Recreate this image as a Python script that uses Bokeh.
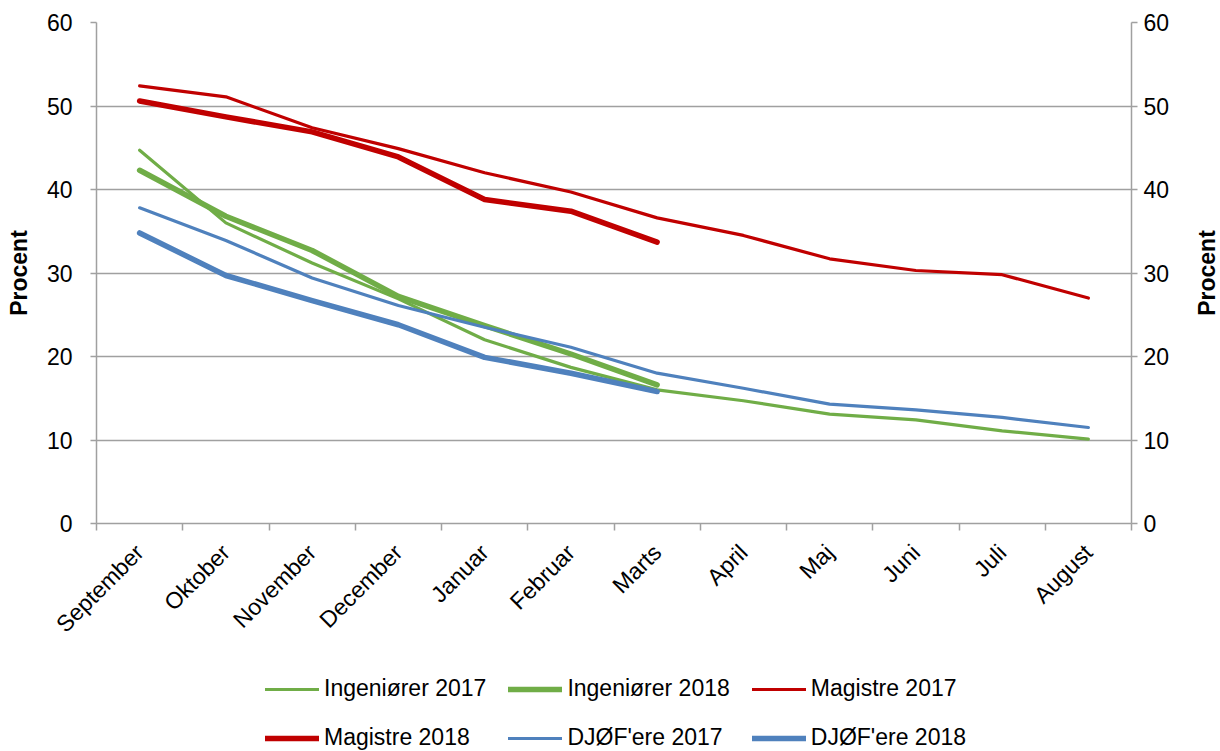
import math
from bokeh.plotting import figure
from bokeh.layouts import column, row
from bokeh.models import (Range1d, LinearAxis, FixedTicker, Legend, LegendItem,
                          ColumnDataSource)
from bokeh.core.properties import value
from bokeh.embed import file_html
from bokeh.resources import INLINE

months = ["September", "Oktober", "November", "December", "Januar", "Februar",
          "Marts", "April", "Maj", "Juni", "Juli", "August"]

ing_2017 = [44.7, 36.0, 31.2, 26.9, 22.0, 18.7, 16.0, 14.7, 13.1, 12.4, 11.1, 10.1]
ing_2018 = [42.3, 36.8, 32.7, 27.2, 23.7, 20.3, 16.6]
mag_2017 = [52.4, 51.1, 47.4, 44.9, 42.0, 39.7, 36.6, 34.5, 31.7, 30.3, 29.8, 27.0]
mag_2018 = [50.6, 48.7, 46.9, 43.9, 38.8, 37.4, 33.7]
djof_2017 = [37.8, 33.9, 29.4, 26.1, 23.5, 21.1, 18.0, 16.2, 14.3, 13.6, 12.7, 11.5]
djof_2018 = [34.8, 29.7, 26.7, 23.8, 19.9, 18.0, 15.8]
y_ticks = [0, 10, 20, 30, 40, 50, 60]
y_title = "Procent"

series = [
    ("Ingeniører 2017", ing_2017, "#70AD47", 3.2),
    ("Ingeniører 2018", ing_2018, "#70AD47", 5.5),
    ("Magistre 2017", mag_2017, "#C00000", 3.2),
    ("Magistre 2018", mag_2018, "#C00000", 5.5),
    ("DJØF'ere 2017", djof_2017, "#4F81BD", 3.2),
    ("DJØF'ere 2018", djof_2018, "#4F81BD", 5.5),
]

FONT = "Liberation Sans"
FS = "23px"
GRID = "#A0A0A0"

W = 1220
SIDE = 36
H = 665
p = figure(width=W - SIDE, height=H, output_backend="svg", toolbar_location=None,
           x_range=Range1d(0, len(months)), y_range=Range1d(y_ticks[0], y_ticks[-1]),
           min_border_left=96, min_border_right=W - SIDE - 1131, min_border_top=22,
           min_border_bottom=142)
p.outline_line_color = None
p.background_fill_color = "white"
p.border_fill_color = "white"

centers = [i + 0.5 for i in range(len(months))]

# narrow strip on the right holding the right-hand axis title
side = figure(width=SIDE, height=H, output_backend="svg", toolbar_location=None,
              x_range=Range1d(0, SIDE), y_range=p.y_range,
              min_border_left=0, min_border_right=0, min_border_top=22,
              min_border_bottom=142)
side.axis.visible = False
side.grid.visible = False
side.outline_line_color = None
side.text(x=[22], y=[(y_ticks[0] + y_ticks[-1]) / 2], text=[y_title],
          angle=math.pi / 2, text_align="center", text_baseline="middle",
          text_font=value(FONT), text_font_size=FS, text_font_style="bold",
          text_color="black")

# legend-only figure below the chart
lg = figure(width=W, height=86, output_backend="svg", toolbar_location=None,
            x_range=Range1d(0, 1), y_range=Range1d(0, 1),
            min_border_left=0, min_border_right=0, min_border_top=0,
            min_border_bottom=0)
lg.axis.visible = False
lg.grid.visible = False
lg.outline_line_color = None

items = []
for name, vals, color, w in series:
    src = ColumnDataSource(dict(x=centers[:len(vals)], y=vals))
    p.line("x", "y", source=src, line_color=color, line_width=w,
           line_join="round", line_cap="round")
    # same glyph style, placed outside the legend figure's visible range
    dummy = lg.line(x=[5, 6], y=[5, 6], line_color=color, line_width=w,
                    line_cap="round")
    items.append(LegendItem(label=name, renderers=[dummy]))

# x axis
xa = p.xaxis[0]
xa.ticker = FixedTicker(ticks=centers, minor_ticks=list(range(len(months) + 1)))
xa.major_label_overrides = {c: m for c, m in zip(centers, months)}
xa.major_label_orientation = math.pi / 4
xa.major_tick_out = 0
xa.major_tick_in = 0
xa.minor_tick_out = 7
xa.minor_tick_in = 0
xa.minor_tick_line_color = GRID
xa.minor_tick_line_width = 1.5
xa.axis_line_color = GRID
xa.axis_line_width = 1.5
xa.major_label_text_font = FONT
xa.major_label_text_font_size = FS
xa.major_label_text_color = "black"
xa.major_label_standoff = 18

# y axes
ya = p.yaxis[0]
ra = LinearAxis()
p.add_layout(ra, "right")
for ax in (ya, ra):
    ax.ticker = FixedTicker(ticks=y_ticks)
    ax.minor_tick_out = 0
    ax.minor_tick_in = 0
    ax.major_tick_out = 6
    ax.major_tick_in = 0
    ax.major_tick_line_color = GRID
    ax.major_tick_line_width = 1.5
    ax.axis_line_color = GRID
    ax.axis_line_width = 1.5
    ax.major_label_text_font = FONT
    ax.major_label_text_font_size = FS
    ax.major_label_text_color = "black"
ya.major_label_standoff = 18
ra.major_label_standoff = 6
ya.axis_label = y_title
ya.axis_label_text_font = FONT
ya.axis_label_text_font_size = FS
ya.axis_label_text_font_style = "bold"
ya.axis_label_text_color = "black"
ya.axis_label_standoff = 12

p.xgrid.grid_line_color = None
p.ygrid.ticker = FixedTicker(ticks=y_ticks[1:])
p.ygrid.grid_line_color = GRID
p.ygrid.grid_line_width = 1.5

legend = Legend(items=items, location=(265, 0), orientation="horizontal",
                ncols=3)
legend.label_text_font = FONT
legend.label_text_font_size = FS
legend.label_text_color = "black"
legend.glyph_width = 54
legend.glyph_height = 24
legend.label_height = 24
legend.label_standoff = 5
legend.spacing = 22
legend.padding = 0
legend.margin = 0
legend.border_line_color = None
legend.background_fill_alpha = 0
lg.add_layout(legend, "center")

layout = column(row(p, side, spacing=0), lg, spacing=0)
open("out.html", "w").write(file_html(layout, INLINE))
